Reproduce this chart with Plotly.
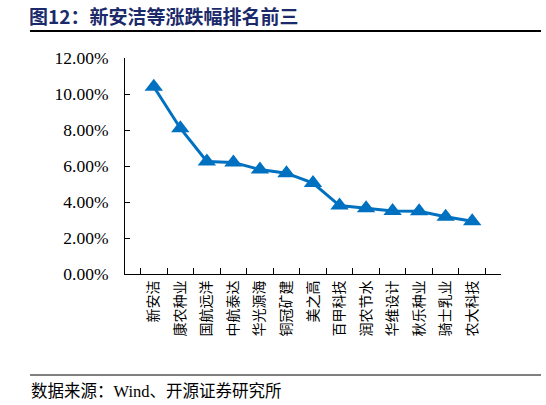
import plotly.graph_objects as go

names = ['新安洁', '康农种业', '国航远洋', '中航泰达', '华光源海', '铜冠矿建', '美之高',
         '百甲科技', '润农节水', '华维设计', '秋乐种业', '骑士乳业', '农大科技']
pct_chg = [10.4, 8.1, 6.25, 6.2, 5.8, 5.6, 5.05, 3.8, 3.65, 3.5, 3.48, 3.18, 2.93]
y_ticks = [0, 2, 4, 6, 8, 10, 12]

title = '图12：新安洁等涨跌幅排名前三'
source = '数据来源：Wind、开源证券研究所'

serif = 'Liberation Serif, Times New Roman, Noto Sans CJK SC'

fig = go.Figure()
fig.add_trace(go.Scatter(
    x=names, y=pct_chg, mode='lines+markers',
    line=dict(color='#0070C0', width=3),
    marker=dict(symbol='triangle-up', size=16, color='#0070C0'),
    showlegend=False
))

# paper spans the two rules: x 30..541, y 31..375 px
W, H = 546, 405
PL, PR, PT, PB = 30, 541, 31, 375
# plot area: x 125..501, y 58..274 px
L, R, T, B = 125, 501, 58, 274
def px(x):
    return (x - PL) / (PR - PL)
def py(y):
    return (PB - y) / (PB - PT)

fig.update_layout(
    width=W, height=H,
    margin=dict(l=PL, r=W - PR, t=PT, b=H - PB, autoexpand=False),
    paper_bgcolor='white', plot_bgcolor='white',
    font=dict(family=serif, color='black', size=15),
    title=dict(text='<b>' + title + '</b>', xref='container', yref='container',
               x=29 / W, xanchor='left', y=1 - 17 / H, yanchor='middle',
               font=dict(size=19, color='#1B2A6B', family='Noto Sans CJK SC')),
    xaxis=dict(
        domain=[px(L), px(R)],
        type='category', tickangle=-90, tickson='boundaries',
        ticks='inside', ticklen=6, tickcolor='black',
        showline=True, linecolor='black', linewidth=1,
        showgrid=False, zeroline=False, automargin=False,
        tickfont=dict(size=14, family='Noto Sans CJK SC'),
    ),
    yaxis=dict(
        domain=[py(B), py(T)],
        range=[0, 12], tickvals=y_ticks,
        ticktext=['%.2f%%' % v for v in y_ticks],
        ticks='inside', ticklen=5, tickcolor='black',
        showline=True, linecolor='black', linewidth=1,
        showgrid=False, zeroline=False, automargin=False,
        ticklabelstandoff=12,
        tickfont=dict(size=17.5, family=serif),
    ),
    shapes=[
        dict(type='line', xref='paper', yref='paper',
             x0=0, x1=1, y0=1, y1=1,
             line=dict(color='black', width=2)),
        dict(type='line', xref='paper', yref='paper',
             x0=0, x1=1, y0=0, y1=0,
             line=dict(color='black', width=1)),
    ],
    annotations=[
        dict(text=source, xref='paper', yref='paper',
             x=px(29), y=py(391), xanchor='left', yanchor='middle',
             showarrow=False,
             font=dict(size=16.5, color='black', family=serif)),
    ],
)

fig.write_html('out.html', config={'displayModeBar': False},
               post_script="document.body.style.margin='0';")
